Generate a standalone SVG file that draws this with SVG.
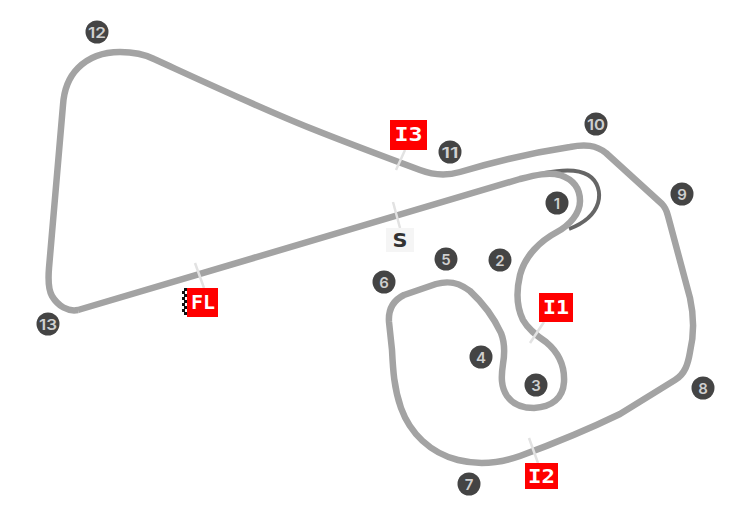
<svg xmlns="http://www.w3.org/2000/svg" width="752" height="512" viewBox="0 0 752 512">
<style>
.track{fill:none;stroke:#a3a3a3;stroke-width:6.500;stroke-linejoin:round}
.alt{fill:none;stroke:#666;stroke-width:4}
.tick{stroke:#e2e2e2;stroke-width:2.500;fill:none}
.num{fill:#444}
.nt{font-family:"Inter","DejaVu Sans",sans-serif;font-size:15px;font-weight:600;fill:#cfcfcf;text-anchor:middle}
.sec{fill:#f00}
.st{font-family:"DejaVu Sans Mono","Liberation Mono",monospace;font-size:19px;font-weight:700;fill:#fff;text-anchor:middle}
</style>
<rect width="752" height="512" fill="#fff"/>
<g id="connectors">
<path class="alt" d="M545 173C560 170 578 169 588 175C598 181 601 193 598 203C594 216 582 224 569 229"/>
<path class="track" d="M78 310C68 312 58 306 52 296C48 289 48 280 49 268L63 105C64 90 68 78 78 68C90 56 104 52 120 52C132 52 144 54 154 59C200 80 260 108 310 128C350 144 385 157 420 170C433 175 446 176 460 172C490 163 530 153 570 147C585 144 596 145 606 153L662 204C666 208 667 212 668 216L690 298C694 316 694 335 690 352C688 364 685 374 675 380L620 414C585 431 550 445 520 456C500 463 478 465 458 460C430 453 410 433 401 408C394 388 393 370 392 350L389 322C388 308 394 300 404 295L436 284C450 280 460 283 470 291C484 304 494 318 501 333C505 343 505 352 503 364C501 377 501 387 507 396C514 406 524 408 534 408C552 407 563 398 564 382C565 364 558 352 546 342C536 335 528 329 523 320C517 308 516 292 520 275C525 256 540 241 557 232C570 225 580 213 580 201C580 187 572 179 560 175C548 172 536 175 520 179L78 310"/>
</g>
<g id="sector-ticks">
<line class="tick" x1="405" y1="150" x2="396" y2="170"/>
<line class="tick" x1="393" y1="202" x2="400" y2="228"/>
<line class="tick" x1="195" y1="263" x2="204" y2="288"/>
<line class="tick" x1="544" y1="322" x2="530" y2="343"/>
<line class="tick" x1="529" y1="438" x2="538" y2="463"/>
</g>
<g id="label-I3"><rect class="sec" x="390" y="120" width="37" height="30"/><text class="st" x="408.500" y="141" textLength="28" lengthAdjust="spacingAndGlyphs">I3</text></g>
<g id="label-S"><rect x="386" y="228" width="28" height="24" fill="#f5f5f5"/><text x="400" y="247" font-family="DejaVu Sans,sans-serif" font-size="20" font-weight="700" fill="#333" text-anchor="middle" textLength="15" lengthAdjust="spacingAndGlyphs">S</text></g>
<g id="label-FL"><rect class="sec" x="187" y="288" width="31" height="29"/><text class="st" x="203" y="309" textLength="24" lengthAdjust="spacingAndGlyphs">FL</text>
<path d="M184 288h3v3h-3zM182 291h3v3h-3zM184 294h3v3h-3zM182 297h3v3h-3zM184 300h3v3h-3zM182 303h3v3h-3zM184 306h3v3h-3zM182 309h3v3h-3zM184 312h3v3h-3z" fill="#111"/></g>
<g id="label-I1"><rect class="sec" x="539" y="293" width="34" height="29"/><text class="st" x="556" y="314" textLength="26" lengthAdjust="spacingAndGlyphs">I1</text></g>
<g id="label-I2"><rect class="sec" x="525" y="463" width="33" height="26"/><text class="st" x="541.500" y="482.500" textLength="27" lengthAdjust="spacingAndGlyphs">I2</text></g>
<g id="turn-1"><circle class="num" cx="557" cy="203" r="11.500"/><text class="nt" x="557" y="208.500">1</text></g>
<g id="turn-2"><circle class="num" cx="500" cy="260" r="11.500"/><text class="nt" x="500" y="265.500">2</text></g>
<g id="turn-3"><circle class="num" cx="536" cy="385" r="11.500"/><text class="nt" x="536" y="390.500">3</text></g>
<g id="turn-4"><circle class="num" cx="481" cy="357" r="11.500"/><text class="nt" x="481" y="362.500">4</text></g>
<g id="turn-5"><circle class="num" cx="446" cy="259" r="11.500"/><text class="nt" x="446" y="264.500">5</text></g>
<g id="turn-6"><circle class="num" cx="384" cy="282" r="11.500"/><text class="nt" x="384" y="287.500">6</text></g>
<g id="turn-7"><circle class="num" cx="469" cy="484" r="11.500"/><text class="nt" x="469" y="489.500">7</text></g>
<g id="turn-8"><circle class="num" cx="703" cy="388" r="11.500"/><text class="nt" x="703" y="393.500">8</text></g>
<g id="turn-9"><circle class="num" cx="682" cy="194" r="11.500"/><text class="nt" x="682" y="199.500">9</text></g>
<g id="turn-10"><circle class="num" cx="596" cy="124" r="11.500"/><text class="nt" x="596" y="129.500" textLength="18" lengthAdjust="spacingAndGlyphs">10</text></g>
<g id="turn-11"><circle class="num" cx="450" cy="152" r="11.500"/><text class="nt" x="450" y="157.500" textLength="17" lengthAdjust="spacingAndGlyphs">11</text></g>
<g id="turn-12"><circle class="num" cx="97" cy="32" r="11.500"/><text class="nt" x="97" y="37.500" textLength="18" lengthAdjust="spacingAndGlyphs">12</text></g>
<g id="turn-13"><circle class="num" cx="48" cy="324" r="11.500"/><text class="nt" x="48" y="329.500" textLength="18" lengthAdjust="spacingAndGlyphs">13</text></g>
</svg>
